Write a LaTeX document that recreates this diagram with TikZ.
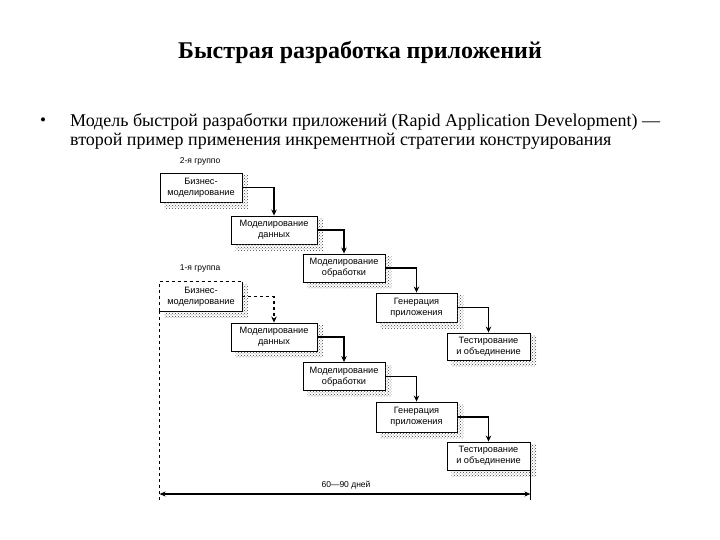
\documentclass[tikz,border=0pt]{standalone}
\usepackage{fontspec}
\setmainfont{Liberation Serif}
\newfontfamily\diagfont{Liberation Sans}
\usetikzlibrary{arrows.meta,patterns}
\newcommand\boxshadow[1]{%
  \fill[pattern=crosshatch dots, pattern color=black!75] ([yshift=-3pt]#1.north east) rectangle ([xshift=6pt,yshift=-6pt]#1.south east);
  \fill[pattern=crosshatch dots, pattern color=black!75] ([xshift=5pt]#1.south west) rectangle ([yshift=-6pt]#1.south east);
}
\begin{document}
\begin{tikzpicture}[x=1pt,y=-1pt,
  box/.style={draw, line width=0.9pt, align=center, inner sep=1pt,
    font=\diagfont\fontsize{9.2}{10.8}\selectfont},
  conn/.style={line width=1.3pt, -{Stealth[length=6pt,width=5.5pt]}},
  lbl/.style={font=\diagfont\fontsize{8.5}{10}\selectfont},
]
\useasboundingbox (0,0) rectangle (720,540);
% title and text
\node[font=\bfseries\fontsize{24}{28}\selectfont] (title) at (360,52) {Быстрая разработка приложений};
\node[font=\fontsize{17}{20}\selectfont] (bul) at (43,122) {•};
\node[anchor=base west, inner sep=0pt, font=\fontsize{18}{20}\selectfont] (t1) at (70,127)
  {Модель быстрой разработки приложений (Rapid Application Development) —};
\node[anchor=base west, inner sep=0pt, font=\fontsize{18}{20}\selectfont] (t2) at (70,146)
  {второй пример применения инкрементной стратегии конструирования};
% group labels
\node[lbl] (g2) at (200,161) {2-я группо};
\node[lbl] (g1) at (200,268) {1-я группа};
% group 2
\node[box, minimum width=82pt, minimum height=29pt] (A1) at (201,187.5) {Бизнес-\\моделирование};
\node[box, minimum width=86pt, minimum height=28pt] (A2) at (274,230) {Моделирование\\данных};
\node[box, minimum width=82pt, minimum height=28pt] (A3) at (344,268) {Моделирование\\обработки};
\node[box, minimum width=81pt, minimum height=29pt] (A4) at (416.5,307.5) {Генерация\\приложения};
\node[box, minimum width=83pt, minimum height=27pt] (A5) at (488.5,346.5) {Тестирование\\и объединение};
% group 1
\node[box, draw=none, minimum width=82pt, minimum height=29pt] (B1) at (201,296.5) {Бизнес-\\моделирование};
\draw[line width=0.9pt, dashed] (B1.south west) -- (B1.north west) -- (B1.north east);
\draw[line width=0.9pt] (B1.north east) -- (B1.south east) -- (B1.south west);
\node[box, minimum width=86pt, minimum height=28pt] (B2) at (274,337) {Моделирование\\данных};
\node[box, minimum width=82pt, minimum height=28pt] (B3) at (344,376.5) {Моделирование\\обработки};
\node[box, minimum width=81pt, minimum height=30pt] (B4) at (416.5,417) {Генерация\\приложения};
\node[box, minimum width=83pt, minimum height=28pt] (B5) at (488.5,456) {Тестирование\\и объединение};
\foreach \n in {A1,A2,A3,A4,A5,B1,B2,B3,B4,B5} {\boxshadow{\n}}
% connectors
\draw[conn] (A1.east) -| (A2.north);
\draw[conn] (A2.east) -| (A3.north);
\draw[conn] (A3.east) -| (A4.north);
\draw[conn] (A4.east) -| (A5.north);
\draw[conn, dashed] (B1.east) -| (B2.north);
\draw[conn] (B2.east) -| (B3.north);
\draw[conn] (B3.east) -| (B4.north);
\draw[conn] (B4.east) -| (B5.north);
% duration
\coordinate (bl) at (B1.west |- 0,500);
\coordinate (br) at (B5.east |- 0,500);
\draw[line width=1pt, dashed] (B1.south west) -- (bl);
\draw[line width=1pt] (B5.south east) -- (br);
\draw[line width=1.3pt, {Stealth[length=6pt,width=5pt]}-{Stealth[length=6pt,width=5pt]}] (B1.west |- 0,494) -- (B5.east |- 0,494);
\node[lbl] (dur) at (346,485) {60—90 дней};
\end{tikzpicture}
\end{document}
